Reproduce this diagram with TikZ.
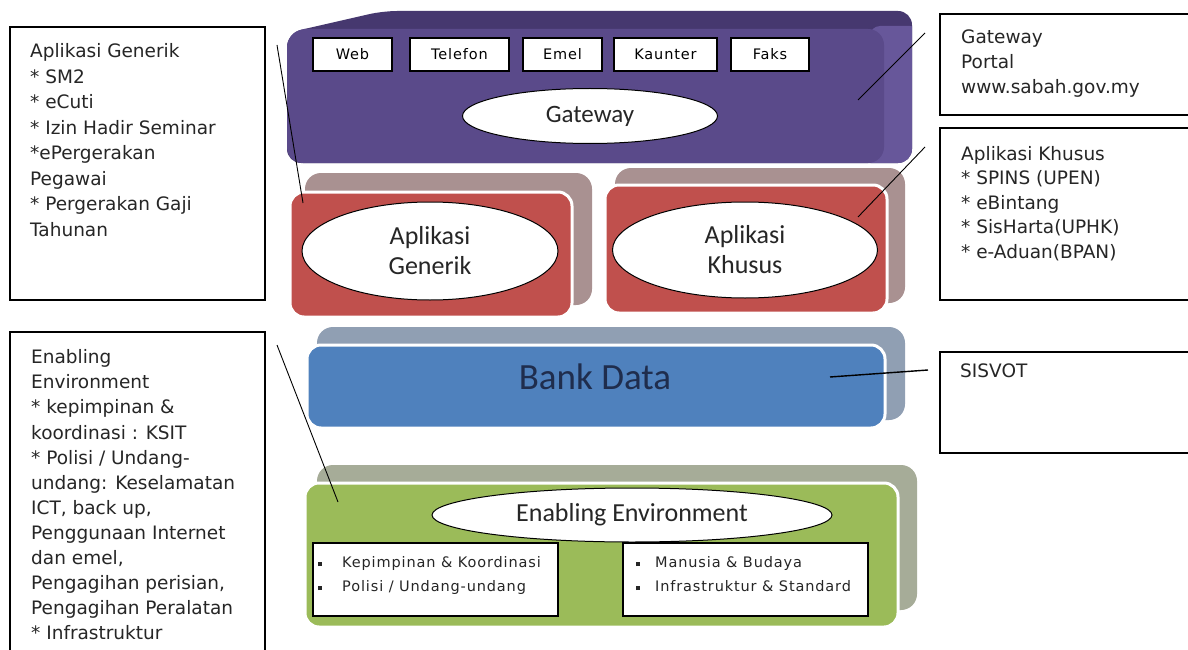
\documentclass[tikz,border=0pt]{standalone}
\usepackage{fontspec}
\setmainfont{DejaVu Sans}
\newfontfamily\calfont{Carlito}
\newfontfamily\chanfont[LetterSpace=6]{DejaVu Sans}
\usetikzlibrary{shapes.geometric}
\definecolor{gwface}{HTML}{5A4A8A}
\definecolor{gwtop}{HTML}{46386F}
\definecolor{gwright}{HTML}{67579A}
\definecolor{redface}{HTML}{C0504D}
\definecolor{redshadow}{HTML}{A99191}
\definecolor{blueface}{HTML}{4F81BD}
\definecolor{blueshadow}{HTML}{909FB3}
\definecolor{greenface}{HTML}{9BBB59}
\definecolor{greenshadow}{HTML}{A6AC98}
\definecolor{navytext}{HTML}{1F2D4D}
\tikzset{
  infobox/.style={draw=black, line width=1.4pt, fill=white},
  infotext/.style={anchor=north west, inner sep=0pt, align=left, font=\fontsize{18.5}{25.5}\selectfont, text=black!85},
  chanbox/.style={draw=black, line width=1.2pt, fill=white, inner sep=0pt, font=\chanfont\fontsize{14.5}{16}\selectfont},
  shadowbox/.style={rounded corners=16},
  facebox/.style={rounded corners=14, draw=white, line width=3pt},
  oval/.style={ellipse, draw=black, line width=1pt, fill=white, inner sep=0pt, text=black!85},
  leader/.style={draw=black, line width=0.9pt},
  listbox/.style={draw=black, line width=1.2pt, fill=white, minimum width=245pt, minimum height=73pt, inner sep=0pt},
  listtext/.style={anchor=north west, inner sep=0pt, align=left, font=\chanfont\fontsize{14.5}{24}\selectfont, text=black!85}
}
\begin{document}
\begin{tikzpicture}[x=1pt,y=-1pt]
\useasboundingbox (0,0) rectangle (1188,650);
\fill[white] (0,0) rectangle (1188,650);

% ---------- Gateway layer ----------
\begin{scope}
\clip[rounded corners=14] (287,33) -- (383,11) -- (912,11) -- (912,163) -- (287,163) -- cycle;
\fill[gwtop] (280,0) rectangle (920,170);
\fill[gwright, rounded corners=10] (870,26) rectangle (920,170);
\fill[gwface, rounded corners=16] (287,29) rectangle (884,163);
\end{scope}

\node[chanbox, minimum width=79pt, minimum height=33pt] (web) at (352.5,54.5) {Web};
\node[chanbox, minimum width=99pt, minimum height=33pt] (tel) at (459.5,54.5) {Telefon};
\node[chanbox, minimum width=79pt, minimum height=33pt] (emel) at (562.5,54.5) {Emel};
\node[chanbox, minimum width=103pt, minimum height=33pt] (kaunter) at (665.5,54.5) {Kaunter};
\node[chanbox, minimum width=78pt, minimum height=33pt] (faks) at (770,54.5) {Faks};
\node[oval, minimum width=255pt, minimum height=55pt, font=\calfont\fontsize{25}{28}\selectfont] (gateway) at (590,116) {Gateway};

% ---------- Aplikasi layer ----------
\fill[redshadow, shadowbox] (305,173) rectangle (592,305);
\filldraw[redface, facebox] (290,192) rectangle (572,317);
\node[oval, minimum width=256pt, minimum height=98pt, align=center, font=\calfont\fontsize{26}{30}\selectfont] (generik) at (430,251) {Aplikasi\\Generik};

\fill[redshadow, shadowbox] (615,168) rectangle (905,303);
\filldraw[redface, facebox] (605,185) rectangle (887,313);
\node[oval, minimum width=265pt, minimum height=96pt, align=center, font=\calfont\fontsize{26}{30}\selectfont] (khusus) at (745,250) {Aplikasi\\Khusus};

% ---------- Bank Data layer ----------
\fill[blueshadow, shadowbox] (317,327) rectangle (905,420);
\filldraw[blueface, facebox] (307,345) rectangle (885,428);
\node[inner sep=0pt, text=navytext, font=\calfont\fontsize{37}{40}\selectfont] (bank) at (595,377) {Bank Data};

% ---------- Enabling Environment layer ----------
\fill[greenshadow, shadowbox] (317,465) rectangle (917,610);
\filldraw[greenface, facebox] (305,483) rectangle (898,627);
\node[oval, minimum width=400pt, minimum height=54pt, font=\calfont\fontsize{26}{28}\selectfont] (enabling) at (632,515) {Enabling Environment};
\node[listbox] (leftlist) at (435.5,579.5) {};
\node[listtext] (leftlisttext) at (318,556) {\makebox[24pt][l]{\raisebox{1pt}{\rule{4pt}{4pt}}}Kepimpinan \& Koordinasi\\\makebox[24pt][l]{\raisebox{1pt}{\rule{4pt}{4pt}}}Polisi / Undang-undang};
\node[listbox] (rightlist) at (745.5,579.5) {};
\node[listtext] (rightlisttext) at (636,556) {\makebox[19pt][l]{\raisebox{1pt}{\rule{4pt}{4pt}}}Manusia \& Budaya\\\makebox[19pt][l]{\raisebox{1pt}{\rule{4pt}{4pt}}}Infrastruktur \& Standard};

% ---------- Side boxes ----------
\node[infobox, minimum width=255pt, minimum height=273pt, inner sep=0pt] (tlbox) at (137.5,163.5) {};
\node[infotext] (tltext) at (30,43.5) {Aplikasi Generik\\* SM2\\* eCuti\\* Izin Hadir Seminar\\*ePergerakan\\Pegawai\\* Pergerakan Gaji\\Tahunan};

\node[infobox, minimum width=255pt, minimum height=330pt, inner sep=0pt] (blbox) at (137.5,497) {};
\node[infotext, font=\fontsize{18.5}{25.1}\selectfont] (bltext) at (31,349.5) {Enabling\\Environment\\* kepimpinan \&\\koordinasi : KSIT\\* Polisi / Undang-\\undang: Keselamatan\\ICT, back up,\\Penggunaan Internet\\dan emel,\\Pengagihan perisian,\\Pengagihan Peralatan\\* Infrastruktur};

\node[infobox, minimum width=255pt, minimum height=101pt, inner sep=0pt] (rtbox) at (1067.5,64.5) {};
\node[infotext, font=\fontsize{18.5}{25}\selectfont] (rttext) at (961,30) {Gateway\\Portal\\www.sabah.gov.my};

\node[infobox, minimum width=255pt, minimum height=172pt, inner sep=0pt] (rmbox) at (1067.5,214) {};
\node[infotext, font=\fontsize{18.5}{24.5}\selectfont] (rmtext) at (961,146) {Aplikasi Khusus\\* SPINS (UPEN)\\* eBintang\\* SisHarta(UPHK)\\* e-Aduan(BPAN)};

\node[infobox, minimum width=255pt, minimum height=101pt, inner sep=0pt] (rbbox) at (1067.5,402.5) {};
\node[infotext] (rbtext) at (960,364) {SISVOT};

% ---------- Leader lines ----------
\coordinate (l1a) at (277,45);   \coordinate (l1b) at (303,203);
\coordinate (l2a) at (858,100);  \coordinate (l2b) at (925,33);
\coordinate (l3a) at (858,217);  \coordinate (l3b) at (925,147);
\coordinate (l4a) at (830,377);  \coordinate (l4b) at (928,370);
\coordinate (l5a) at (277,345);  \coordinate (l5b) at (338,502);
\draw[leader] (l1a) -- (l1b);
\draw[leader] (l2a) -- (l2b);
\draw[leader] (l3a) -- (l3b);
\draw[leader, line width=1.4pt] (l4a) -- (l4b);
\draw[leader] (l5a) -- (l5b);
\end{tikzpicture}
\end{document}
